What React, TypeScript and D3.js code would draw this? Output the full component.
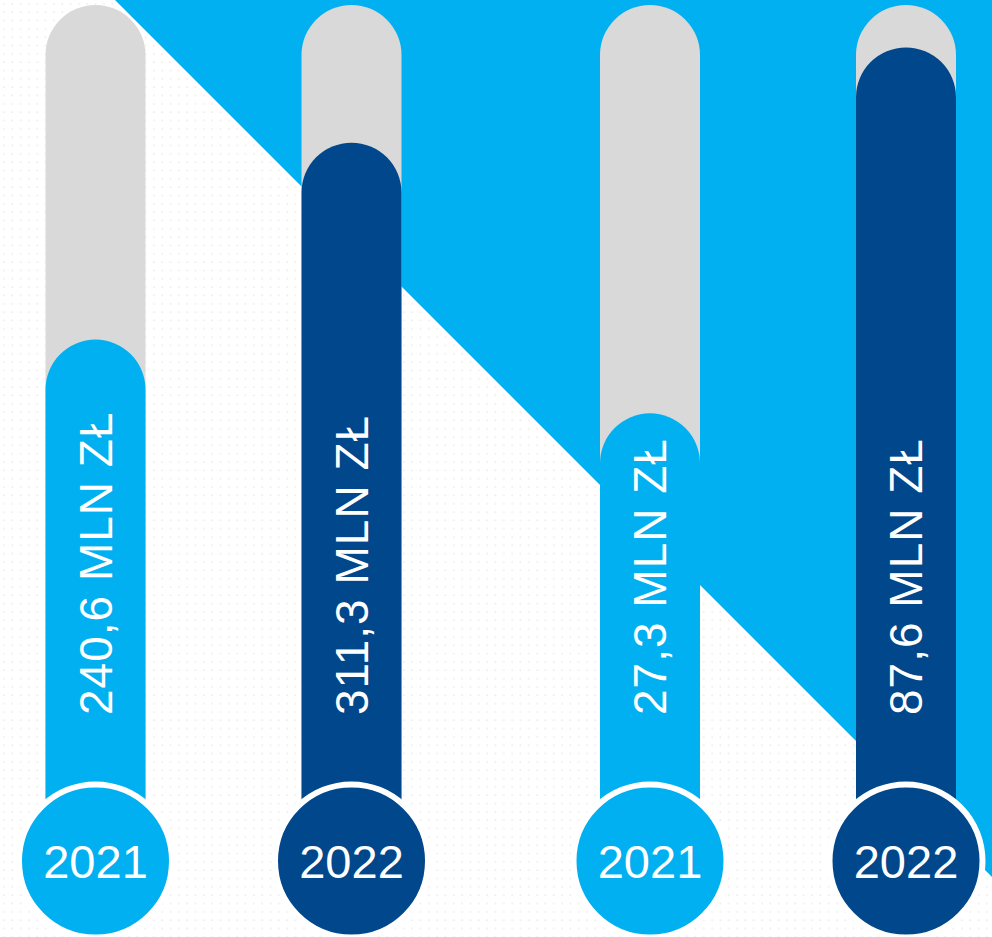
import React from "react";
import * as d3 from "d3";

const W = 992;
const H = 937;

const years = ["2021", "2022", "2021", "2022"];
const values = [240.6, 311.3, 27.3, 87.6];
const labels = ["240,6 MLN ZŁ", "311,3 MLN ZŁ", "27,3 MLN ZŁ", "87,6 MLN ZŁ"];
const groups = [0, 0, 1, 1];
// per-group scale domains (infographic scaling)
const groupDomains = [
  [0, 360.7],
  [0, 94.6],
];

const LIGHT = "#00b0f0";
const DARK = "#00478b";
const GRAY = "#d9d9d9";

export default function App() {
  const centers = [95.5, 351.5, 650, 906];
  const barW = 100;
  const r = barW / 2;
  const top = 5;
  const bottomY = 830;
  const cy = 861;
  const scales = [
    d3.scaleLinear().domain(groupDomains[0]).range([1010, top]),
    d3.scaleLinear().domain(groupDomains[1]).range([579, top]),
  ];

  const pill = (cx: number, y0: number, y1: number) => {
    const p = d3.path();
    p.moveTo(cx - r, y1);
    p.lineTo(cx - r, y0 + r);
    p.arc(cx, y0 + r, r, Math.PI, 0);
    p.lineTo(cx + r, y1);
    p.closePath();
    return p.toString();
  };

  const font = "'Liberation Sans', Arial, Helvetica, sans-serif";

  return (
    <svg
      width={W}
      height={H}
      style={{ position: "absolute", left: 0, top: 0, background: "#ffffff" }}
    >
      <defs>
        <pattern id="dots" width={8.33} height={8.33} patternUnits="userSpaceOnUse">
          <circle cx={4} cy={4} r={0.9} fill="#ebebeb" />
        </pattern>
      </defs>
      <rect width={W} height={H} fill="#ffffff" />
      <rect width={W} height={H} fill="url(#dots)" />
      <polygon points={`115,0 ${W},0 ${W},${W - 115}`} fill={LIGHT} />
      {values.map((v, i) => {
        const cx = centers[i];
        const color = i % 2 === 0 ? LIGHT : DARK;
        const yFill = scales[groups[i]](v);
        return (
          <g key={i}>
            <path d={pill(cx, top, bottomY)} fill={GRAY} />
            <path d={pill(cx, yFill, bottomY)} fill={color} />
            <text
              transform={`translate(${cx},715) rotate(-90)`}
              y={16}
              fill="#ffffff"
              fontFamily={font}
              fontSize={46}
              letterSpacing={1}
            >
              {labels[i]}
            </text>
            <circle cx={cx} cy={cy} r={76.5} fill={color} stroke="#ffffff" strokeWidth={6} />
            <text
              x={cx}
              y={cy + 17}
              textAnchor="middle"
              fill="#ffffff"
              fontFamily={font}
              fontSize={47}
            >
              {years[i]}
            </text>
          </g>
        );
      })}
    </svg>
  );
}
